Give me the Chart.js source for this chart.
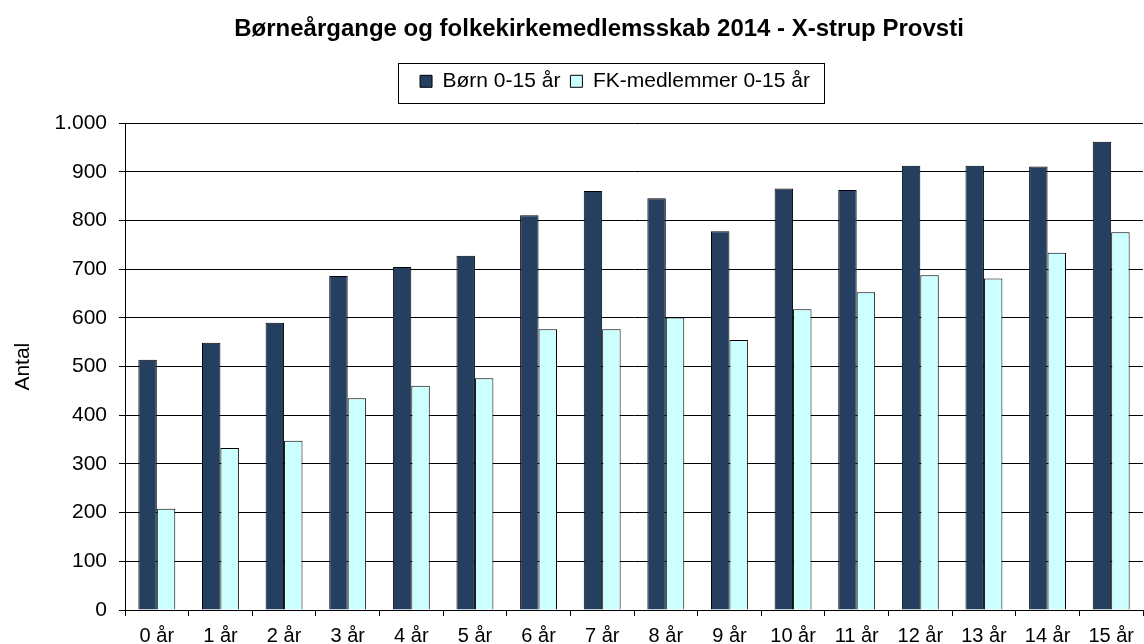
<!DOCTYPE html>
<html>
<head>
<meta charset="utf-8">
<script src="https://cdn.jsdelivr.net/npm/chart.js@4/dist/chart.umd.min.js"></script>
<style>
  body { margin: 0; background: #fff; }
  #wrap { width: 1144px; height: 644px; }
</style>
</head>
<body>
<div id="wrap"><canvas id="bar-chart" width="1144" height="644"></canvas></div>
<script>
// age groups on the x axis
const ageLabels = ['0 år', '1 år', '2 år', '3 år', '4 år', '5 år', '6 år', '7 år',
  '8 år', '9 år', '10 år', '11 år', '12 år', '13 år', '14 år', '15 år'];

// children per year group
const boernData = [514, 549, 590, 686, 705, 728, 811, 861, 846, 778, 866, 863, 913, 913, 911, 962];

// members of the folkekirke per year group
const fkData = [208, 333, 348, 435, 461, 476, 577, 577, 601, 555, 618, 653, 688, 681, 734, 776];

const FONT = "'Liberation Sans', Arial, sans-serif";
const LEFT_PAD = 55;     // pushes the title centre right, like the original
const LEGEND_SHIFT = 16; // the legend sits a bit further right than the title

// moves the legend sideways and draws the thin frame around it
const legendFrame = {
  id: 'legendFrame',
  afterLayout(chart) {
    const lg = chart.legend;
    if (!lg) return;
    lg.left += LEGEND_SHIFT;
    lg.right += LEGEND_SHIFT;
  },
  afterDraw(chart) {
    const lg = chart.legend;
    if (!lg || !lg.legendHitBoxes.length) return;
    const boxes = lg.legendHitBoxes;
    const first = boxes[0];
    const last = boxes[boxes.length - 1];
    const c = chart.ctx;
    c.save();
    c.strokeStyle = '#000';
    c.lineWidth = 1;
    const x1 = Math.round(first.left - 22) + 0.5;
    const x2 = Math.round(last.left + last.width + 14) + 0.5;
    const cy = first.top + first.height / 2;
    c.strokeRect(x1, Math.round(cy - 18) + 0.5, x2 - x1, 40);
    c.restore();
  }
};

const ctx = document.getElementById('bar-chart').getContext('2d');
new Chart(ctx, {
  type: 'bar',
  data: {
    labels: ageLabels,
    datasets: [
      {
        label: 'Børn 0-15 år',
        data: boernData,
        backgroundColor: '#243F60',
        borderColor: '#000',
        borderWidth: 1
      },
      {
        label: 'FK-medlemmer 0-15 år',
        data: fkData,
        backgroundColor: '#CCFFFF',
        borderColor: '#000',
        borderWidth: 1
      }
    ]
  },
  options: {
    responsive: false,
    animation: false,
    devicePixelRatio: 1,
    layout: { padding: { left: LEFT_PAD, right: 1, top: 0, bottom: 0 } },
    datasets: {
      bar: { categoryPercentage: 0.58, barPercentage: 1.0 }
    },
    plugins: {
      title: {
        display: true,
        text: 'Børneårgange og folkekirkemedlemsskab 2014 - X-strup Provsti',
        color: '#000',
        font: { family: FONT, size: 24, weight: 'bold' },
        padding: { top: 15, bottom: 17 }
      },
      // empty subtitle used as a spacer under the legend
      subtitle: {
        display: true,
        text: '',
        weight: 500,
        font: { family: FONT, size: 10, lineHeight: 1 },
        padding: { top: 11.5, bottom: 0 }
      },
      legend: {
        display: true,
        position: 'top',
        labels: {
          color: '#000',
          font: { family: FONT, size: 21 },
          boxWidth: 12,
          boxHeight: 12,
          padding: 10
        }
      },
      tooltip: { enabled: false }
    },
    scales: {
      x: {
        grid: { display: true, drawOnChartArea: false, offset: true, color: '#000', tickLength: 6 },
        border: { color: '#000', width: 1 },
        ticks: { color: '#000', font: { family: FONT, size: 20 }, padding: 8, maxRotation: 0, autoSkip: false },
        afterFit(scale) { scale.height = 34; }
      },
      y: {
        min: 0,
        max: 1000,
        grid: { color: '#000', tickLength: 6 },
        border: { color: '#000', width: 1 },
        ticks: {
          stepSize: 100,
          color: '#000',
          padding: 12,
          font: { family: FONT, size: 21 },
          callback: v => v.toLocaleString('da-DK')
        },
        title: {
          display: true,
          text: 'Antal',
          color: '#000',
          font: { family: FONT, size: 21 },
          padding: { top: 11 - LEFT_PAD, bottom: 0 }
        },
        afterFit(scale) { scale.width = 125 - LEFT_PAD; }
      }
    }
  },
  plugins: [legendFrame]
});
</script>
</body>
</html>
